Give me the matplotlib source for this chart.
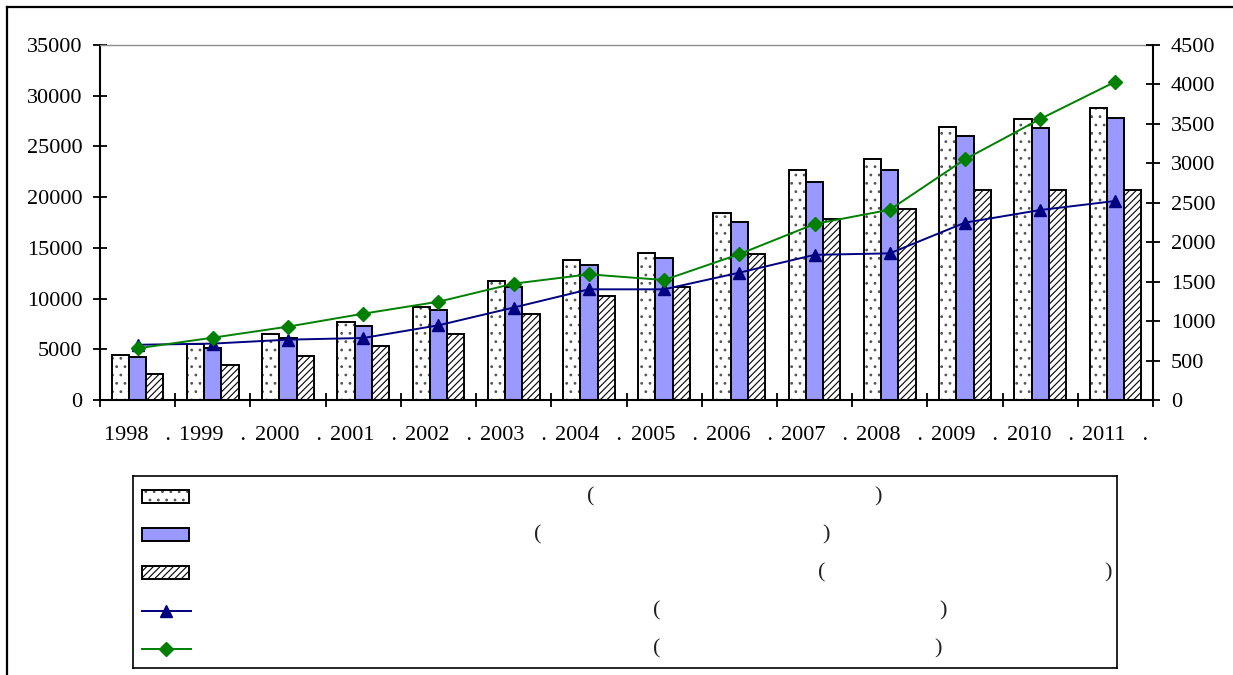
import matplotlib
matplotlib.use("Agg")
import matplotlib.pyplot as plt
import numpy as np
from matplotlib.patches import Rectangle
from matplotlib.lines import Line2D

# ---- data -------------------------------------------------------------
years = [1998, 1999, 2000, 2001, 2002, 2003, 2004,
         2005, 2006, 2007, 2008, 2009, 2010, 2011]
year_labels = [f"{y}   ." for y in years]

bars_dotted = [4400, 5500, 6550, 7650, 9200, 11700, 13800,
               14500, 18450, 22700, 23750, 26950, 27700, 28750]
bars_blue = [4200, 5100, 6100, 7250, 8850, 11150, 13300,
             14000, 17550, 21450, 22700, 26050, 26800, 27850]
bars_hatched = [2600, 3500, 4350, 5300, 6550, 8500, 10300,
                11150, 14350, 17870, 18800, 20750, 20750, 20750]

line_triangle = [700, 715, 765, 786, 947, 1172, 1403,
                 1403, 1614, 1840, 1859, 2248, 2408, 2523]
line_diamond = [655, 790, 930, 1094, 1246, 1475, 1593,
                1521, 1849, 2231, 2412, 3051, 3562, 4035]

left_ticks = list(range(0, 35001, 5000))
right_ticks = list(range(0, 4501, 500))

legend_parens = [("(", ")"), ("(", ")"), ("(", ")"), ("(", ")"), ("(", ")")]

# ---- style ------------------------------------------------------------
plt.rcParams['font.family'] = ['Liberation Serif', 'DejaVu Serif']
plt.rcParams['font.size'] = 16
plt.rcParams['hatch.linewidth'] = 0.8

W, H = 1233, 675
fig = plt.figure(figsize=(W / 100, H / 100), dpi=100)
fig.patch.set_facecolor('white')


def fx(px):
    return px / W


def fy(py):
    return 1 - py / H


BLUE_FILL = '#9999ff'
NAVY = '#000080'
GREEN = '#008000'
DOT_GRAY = '#555555'
EDGE_LW = 1.4
TRI_MS, DIA_MS = 9, 7

ax = fig.add_axes([fx(100), fy(400), fx(1153) - fx(100), fy(45) - fy(400)])
ax2 = ax.twinx()

x = np.arange(len(years))
bw = 0.229
# dotted bars: gray dot pattern underneath, black outline on top
ax.bar(x - bw, bars_dotted, bw, color='white', edgecolor=DOT_GRAY,
       hatch='..', linewidth=0, zorder=2)
ax.bar(x - bw, bars_dotted, bw, fill=False, edgecolor='black',
       linewidth=EDGE_LW, zorder=2.1)
ax.bar(x, bars_blue, bw, color=BLUE_FILL, edgecolor='black',
       linewidth=EDGE_LW, zorder=2)
ax.bar(x + bw, bars_hatched, bw, color='white', edgecolor='black',
       hatch='/////', linewidth=EDGE_LW, zorder=2)

ax2.plot(x, line_triangle, color=NAVY, lw=1.4, marker='^', ms=TRI_MS,
         markeredgecolor=NAVY, markerfacecolor=NAVY, zorder=3)
ax2.plot(x, line_diamond, color=GREEN, lw=1.4, marker='D', ms=DIA_MS,
         markeredgecolor=GREEN, markerfacecolor=GREEN, zorder=3)

# axes limits and ticks
ax.set_xlim(-0.5, len(years) - 0.5)
ax.set_ylim(0, 35000)
ax.set_yticks(left_ticks)
ax.set_yticklabels([str(v) for v in left_ticks])
ax2.set_ylim(0, 4500)
ax2.set_yticks(right_ticks)
ax2.set_yticklabels([str(v) for v in right_ticks])

ax.set_xticks(np.arange(-0.5, len(years), 1.0))
ax.set_xticklabels([])
ax.set_xticks(x, minor=True)
ax.set_xticklabels(year_labels, minor=True)

ax.tick_params(axis='x', which='major', direction='inout', length=10,
               width=1.3, color='black')
ax.tick_params(axis='x', which='minor', length=0, pad=19)
ax.tick_params(axis='y', direction='inout', length=10.5, width=1.3, pad=7.5)
ax2.tick_params(axis='y', direction='inout', length=10.5, width=1.3, pad=7.5)

for name, sp in ax.spines.items():
    if name in ('left', 'bottom'):
        sp.set_color('black')
        sp.set_linewidth(1.5)
    elif name == 'top':
        sp.set_color('#8c8c8c')
        sp.set_linewidth(1.0)
    else:
        sp.set_visible(False)
for name, sp in ax2.spines.items():
    if name == 'right':
        sp.set_color('black')
        sp.set_linewidth(1.5)
    else:
        sp.set_visible(False)

# ---- outer frame ------------------------------------------------------
fig.add_artist(Line2D([fx(7), fx(7)], [fy(7), 0], color='black', lw=1.6,
                      transform=fig.transFigure))
fig.add_artist(Line2D([fx(7), 1], [fy(7), fy(7)], color='black', lw=1.6,
                      transform=fig.transFigure))

# ---- legend box -------------------------------------------------------
lx0, lx1, ly0, ly1 = 133, 1117, 476, 668
lax = fig.add_axes([fx(lx0), fy(ly1), fx(lx1) - fx(lx0), fy(ly0) - fy(ly1)])
lax.set_xlim(lx0, lx1)
lax.set_ylim(ly1, ly0)
lax.set_xticks([])
lax.set_yticks([])
for sp in lax.spines.values():
    sp.set_color('black')
    sp.set_linewidth(1.2)

rows = [497, 535, 573, 611, 649]
kx0, kw, kh = 142, 47, 13
lax.add_patch(Rectangle((kx0, rows[0] - kh / 2), kw, kh, facecolor='white',
                        edgecolor=DOT_GRAY, hatch='..', lw=0))
lax.add_patch(Rectangle((kx0, rows[0] - kh / 2), kw, kh, fill=False,
                        edgecolor='black', lw=EDGE_LW))
lax.add_patch(Rectangle((kx0, rows[1] - kh / 2), kw, kh, facecolor=BLUE_FILL,
                        edgecolor='black', lw=EDGE_LW))
lax.add_patch(Rectangle((kx0, rows[2] - kh / 2), kw, kh, facecolor='white',
                        edgecolor='black', hatch='/////', lw=EDGE_LW))
lax.plot([kx0, kx0 + 49], [rows[3]] * 2, color=NAVY, lw=1.4)
lax.plot([kx0 + 24], [rows[3]], color=NAVY, marker='^', ms=TRI_MS)
lax.plot([kx0, kx0 + 49], [rows[4]] * 2, color=GREEN, lw=1.4)
lax.plot([kx0 + 24], [rows[4]], color=GREEN, marker='D', ms=DIA_MS)

paren_x = [(591, 878), (538, 826), (822, 1108), (657, 943), (657, 938)]
for (op, cl), (xo, xc), yc in zip(legend_parens, paren_x, rows):
    lax.text(xo, yc, op, ha='center', va='center', color='#222222')
    lax.text(xc, yc, cl, ha='center', va='center', color='#222222')

fig.savefig('out.png', dpi=100)
